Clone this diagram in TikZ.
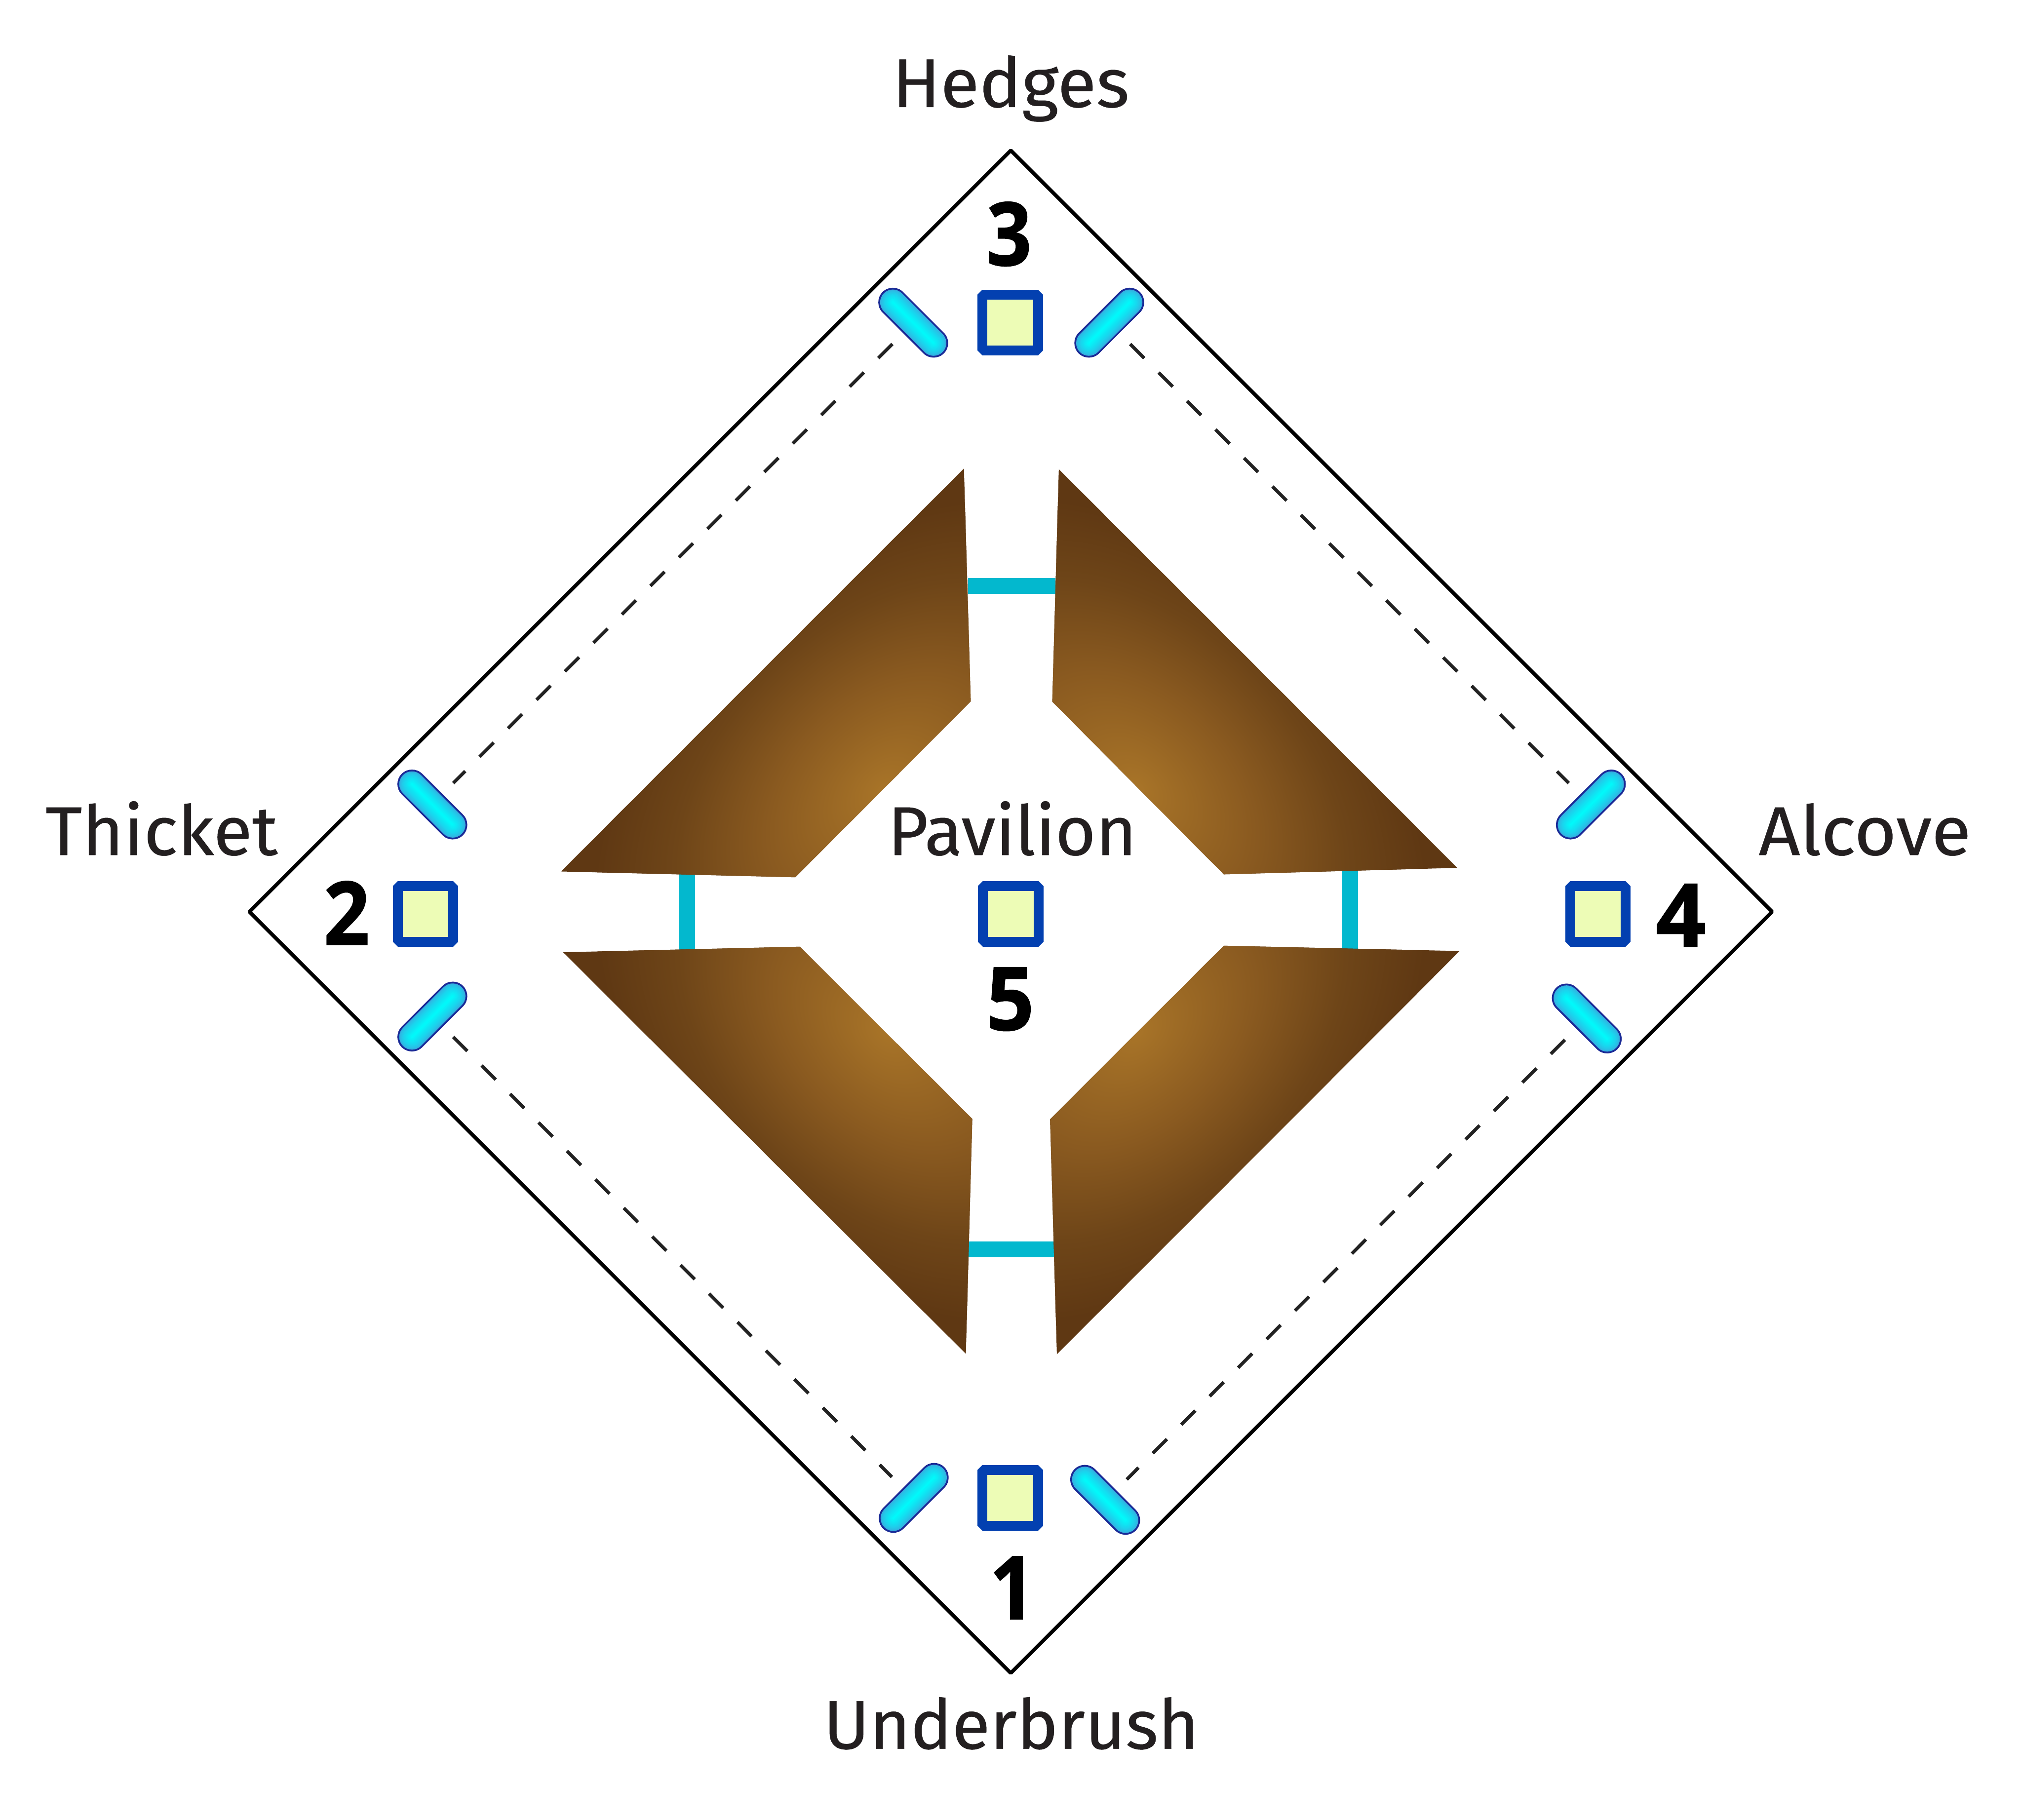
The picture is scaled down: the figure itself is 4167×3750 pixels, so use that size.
\documentclass[tikz,border=0pt]{standalone}
\usepackage{fontspec}
\setmainfont[FakeBold=0.35]{Fira Sans}
\usetikzlibrary{calc}
\definecolor{txt}{HTML}{231F20}
\definecolor{sqedge}{HTML}{0340B0}
\definecolor{sqfill}{HTML}{EDFCB6}
\definecolor{capline}{HTML}{1A2A96}
\definecolor{capedge}{HTML}{35AEE0}
\definecolor{capmid}{HTML}{00FBFB}
\definecolor{barcol}{HTML}{03B8CE}
\definecolor{dashcol}{HTML}{222222}
\definecolor{brA}{HTML}{A87428}
\definecolor{brB}{HTML}{8A5A20}
\definecolor{brC}{HTML}{6E4518}
\definecolor{brD}{HTML}{5F3813}
\pgfdeclareradialshading{brownrad}{\pgfpointorigin}{%
 color(0bp)=(brA);color(20bp)=(brB);color(36bp)=(brC);color(50bp)=(brD)}
\tikzset{
 x=0.01cm,y=-0.01cm,
 sq/.style={draw=sqedge,fill=sqfill,line width=5.83pt,line join=bevel,inner sep=0pt,minimum size=32.6pt,shape=rectangle},
 lab/.style={anchor=base,inner sep=0pt,text=txt,font=\fontsize{40.4}{44}\selectfont},
 num/.style={anchor=base,inner sep=0pt,text=black},
 outline/.style={draw=black,line width=2.15pt,line join=bevel},
 dashline/.style={draw=dashcol,line width=1.95pt,dash pattern=on 11.7pt off 11.9pt},
 barline/.style={draw=barcol,line width=9.4pt},
}
\newfontfamily\digitfont[BoldFeatures={FakeBold=1}]{Open Sans}
\newcommand{\numtext}[2]{\scalebox{#2}[1]{\fontsize{51.5}{56}\digitfont\bfseries #1}}
\newcommand{\labtext}[2]{\scalebox{#2}[1]{#1}}
% capsule: name, centre x, y, dx, dy (half axis)
\newcommand{\capsule}[5]{%
 \coordinate (#1) at (#2,#3);
 \draw[capline,line width=17.07pt,line cap=round] ($(#1)+(#4,#5)$) -- ($(#1)-(#4,#5)$);
 \foreach \i in {0,...,16}{%
  \pgfmathsetmacro{\wd}{52*(1-\i/16)+0.5}
  \pgfmathsetmacro{\pc}{100*(\i/16)^0.7}
  \draw[color=capmid!\pc!capedge,line width=\wd*0.2845pt,line cap=round] ($(#1)+(#4,#5)$) -- ($(#1)-(#4,#5)$);
 }}
% brown block: centre of light, rotation, polygon
\newcommand{\brownblock}[3]{%
 \begin{scope}
  \clip #3 -- cycle;
  \fill[brD] (0,0) rectangle (4167,3750);
  \begin{scope}[shift={#1},rotate=#2,xscale=3.97,yscale=2.66]
   \pgflowlevelsynccm
   \pgfuseshading{brownrad}
  \end{scope}
 \end{scope}}
\begin{document}
\begin{tikzpicture}
\useasboundingbox (0,0) rectangle (4167,3750);
\fill[white] (0,0) rectangle (4167,3750);

% outer diamond
\coordinate (dT) at (2083,310);
\coordinate (dL) at (514,1879);
\coordinate (dB) at (2083,3448);
\coordinate (dR) at (3652,1879);
\draw[outline] (dT) -- (dR) -- (dB) -- (dL) -- cycle;

% dashed lines
\coordinate (ta) at (1839,709);
\coordinate (tb) at (934,1614);
\coordinate (ra) at (2329,709);
\coordinate (rb) at (3233,1614);
\coordinate (la) at (934,2137);
\coordinate (lb) at (1838,3044);
\coordinate (qa) at (3225,2143);
\coordinate (qb) at (2322,3049);
\draw[dashline] (ta) -- (tb);
\draw[dashline] (ra) -- (rb);
\draw[dashline] (la) -- (lb);
\draw[dashline] (qa) -- (qb);

% cyan bars
\coordinate (b1a) at (1995,1207.5); \coordinate (b1b) at (2175,1207.5);
\coordinate (b2a) at (1995,2575);   \coordinate (b2b) at (2172,2575);
\coordinate (b3a) at (1416,1795);   \coordinate (b3b) at (1416,1965);
\coordinate (b4a) at (2782,1785);   \coordinate (b4b) at (2782,1960);
\draw[barline] (b1a) -- (b1b);
\draw[barline] (b2a) -- (b2b);
\draw[barline] (b3a) -- (b3b);
\draw[barline] (b4a) -- (b4b);

% brown blocks
\brownblock{(1820,1627)}{45}{(1156,1796) -- (1639,1808) -- (2000.5,1445.5) -- (1986.5,965.6)}
\brownblock{(2345,1624)}{-45}{(2182,967) -- (2168.5,1446) -- (2522,1802) -- (3003,1788.5)}
\brownblock{(1826,2128)}{-45}{(1160.6,1962.5) -- (1648.5,1951) -- (2003.7,2306) -- (1990.5,2790)}
\brownblock{(2343,2128)}{45}{(2522,1949) -- (3008,1960) -- (2178,2791) -- (2164,2306.6)}

% capsules
\capsule{c1}{1882}{665}{-42}{-42}
\capsule{c2}{2286}{665}{42}{-42}
\capsule{c3}{891}{1658}{-42}{-42}
\capsule{c4}{891}{2095}{42}{-42}
\capsule{c5}{3278.5}{1658}{42}{-42}
\capsule{c6}{3270}{2099}{-42}{-42}
\capsule{c7}{1883}{3087}{42}{-42}
\capsule{c8}{2277.5}{3091}{-42}{-42}

% squares
\node[sq] (s3) at (2082,665) {};
\node[sq] (s2) at (877,1883.5) {};
\node[sq] (s4) at (3293,1883.5) {};
\node[sq] (s1) at (2082,3087) {};
\node[sq] (s5) at (2083,1883.5) {};

% labels
\node[lab] (hedges) at (2083,220.6) {\labtext{Hedges}{1.03}};
\node[lab] (pavilion) at (2086,1762) {\labtext{Pavilion}{1.01}};
\node[lab] (thicket) at (333,1762) {\labtext{Thicket}{1.03}};
\node[lab] (alcove) at (3843,1762) {\labtext{Alcove}{1.05}};
\node[lab] (under) at (2084,3604) {\labtext{Underbrush}{1.01}};

% numbers
\node[num] (n3) at (2079.5,547) {\numtext{3}{0.9}};
\node[num] (n2) at (714.5,1947) {\numtext{2}{0.92}};
\node[num] (n4) at (3464,1951) {\numtext{4}{1}};
\node[num] (n1) at (2086,3337) {\numtext{1}{0.9}};
\node[num] (n5) at (2082,2123) {\numtext{5}{0.95}};
\end{tikzpicture}
\end{document}
